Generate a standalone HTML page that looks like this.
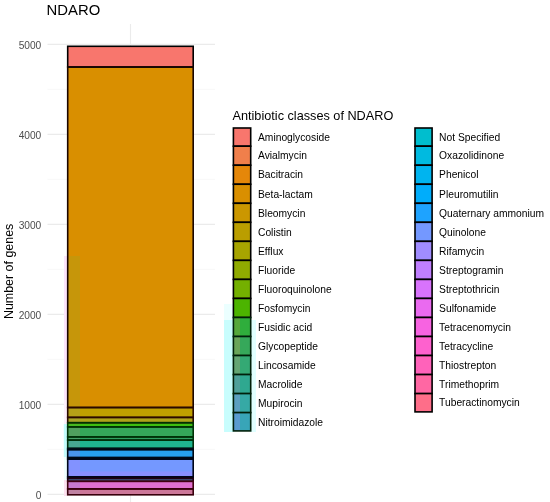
<!DOCTYPE html>
<html><head><meta charset="utf-8"><title>NDARO</title>
<style>
html,body{margin:0;padding:0;background:#fff;}
body{width:550px;height:502px;overflow:hidden;}
svg{display:block;}
text{font-family:"Liberation Sans",sans-serif;}
.ax{font-size:10.2px;fill:#4d4d4d;}
.lg{font-size:10.28px;fill:#000;}
</style></head><body>
<svg width="550" height="502" viewBox="0 0 550 502">
<rect width="550" height="502" fill="#fff"/>
<line x1="47.5" x2="215" y1="449.4" y2="449.4" stroke="#f3f3f3" stroke-width="0.6"/>
<line x1="47.5" x2="215" y1="359.4" y2="359.4" stroke="#f3f3f3" stroke-width="0.6"/>
<line x1="47.5" x2="215" y1="269.4" y2="269.4" stroke="#f3f3f3" stroke-width="0.6"/>
<line x1="47.5" x2="215" y1="179.4" y2="179.4" stroke="#f3f3f3" stroke-width="0.6"/>
<line x1="47.5" x2="215" y1="89.4" y2="89.4" stroke="#f3f3f3" stroke-width="0.6"/>
<line x1="47.5" x2="215" y1="494.4" y2="494.4" stroke="#ebebeb" stroke-width="1.1"/>
<line x1="47.5" x2="215" y1="404.4" y2="404.4" stroke="#ebebeb" stroke-width="1.1"/>
<line x1="47.5" x2="215" y1="314.4" y2="314.4" stroke="#ebebeb" stroke-width="1.1"/>
<line x1="47.5" x2="215" y1="224.4" y2="224.4" stroke="#ebebeb" stroke-width="1.1"/>
<line x1="47.5" x2="215" y1="134.4" y2="134.4" stroke="#ebebeb" stroke-width="1.1"/>
<line x1="47.5" x2="215" y1="44.4" y2="44.4" stroke="#ebebeb" stroke-width="1.1"/>
<line x1="130.5" x2="130.5" y1="24" y2="502" stroke="#ebebeb" stroke-width="1.1"/>
<rect x="64" y="256" width="3.6" height="144" fill="#FCE4FC"/>
<rect x="64" y="400" width="3.6" height="24" fill="#FEF0FC"/>
<rect x="63.8" y="424" width="3.8" height="33" fill="#C4FCFC"/>
<rect x="64" y="457" width="3.6" height="23" fill="#F0FFFF"/>
<rect x="64" y="480" width="3.6" height="16" fill="#FDE2F0"/>
<rect x="67.7" y="46.3" width="125.5" height="20.7" fill="#F8766D"/>
<rect x="67.7" y="67.0" width="125.5" height="340.5" fill="#D98F00"/>
<rect x="67.7" y="256" width="12.3" height="151.5" fill="#C6960A"/>
<rect x="67.7" y="407.5" width="125.5" height="9.9" fill="#BFA000"/>
<rect x="67.7" y="407.5" width="12.3" height="9.9" fill="#B5A118"/>
<rect x="67.7" y="417.4" width="125.5" height="5.3" fill="#ADA51A"/>
<rect x="67.7" y="417.4" width="12.3" height="5.3" fill="#A8A528"/>
<rect x="67.7" y="422.7" width="125.5" height="4.2" fill="#3DBE10"/>
<rect x="67.7" y="422.7" width="12.3" height="4.2" fill="#45B820"/>
<rect x="67.7" y="426.9" width="125.5" height="10.0" fill="#35A85A"/>
<rect x="67.7" y="426.9" width="12.3" height="10.0" fill="#50A05E"/>
<rect x="67.7" y="436.9" width="125.5" height="3.2" fill="#2FA060"/>
<rect x="67.7" y="436.9" width="12.3" height="3.2" fill="#48A068"/>
<rect x="67.7" y="440.1" width="125.5" height="8.3" fill="#1FB590"/>
<rect x="67.7" y="440.1" width="12.3" height="8.3" fill="#48A892"/>
<rect x="67.7" y="448.4" width="125.5" height="1.2" fill="#00B4EF"/>
<rect x="67.7" y="449.6" width="125.5" height="8.0" fill="#27A0EE"/>
<rect x="67.7" y="449.6" width="12.3" height="8.0" fill="#4A94EC"/>
<rect x="67.7" y="457.6" width="125.5" height="1.6" fill="#1EA3FF"/>
<rect x="67.7" y="459.2" width="125.5" height="17.6" fill="#7498FF"/>
<rect x="67.7" y="459.2" width="12.3" height="17.6" fill="#8292FF"/>
<rect x="67.7" y="476.8" width="125.5" height="1.6" fill="#A08CFF"/>
<rect x="67.7" y="478.4" width="125.5" height="2.9" fill="#5070A0"/>
<rect x="67.7" y="481.3" width="125.5" height="7.6" fill="#E070D0"/>
<rect x="67.7" y="481.3" width="12.3" height="7.6" fill="#C87ACF"/>
<rect x="67.7" y="488.9" width="125.5" height="5.9" fill="#CC7799"/>
<rect x="67.7" y="488.9" width="12.3" height="5.9" fill="#BF82A2"/>
<rect x="67.7" y="471.5" width="125.5" height="5" fill="#8890FF"/>
<rect x="67.7" y="46.3" width="125.5" height="20.7" fill="none" stroke="#000" stroke-width="1.6"/>
<rect x="67.7" y="67.0" width="125.5" height="340.5" fill="none" stroke="#1a0500" stroke-width="1.6"/>
<rect x="67.7" y="407.5" width="125.5" height="9.9" fill="none" stroke="#2a0800" stroke-width="1.6"/>
<rect x="67.7" y="417.4" width="125.5" height="5.3" fill="none" stroke="#2a0a00" stroke-width="1.6"/>
<rect x="67.7" y="422.7" width="125.5" height="4.2" fill="none" stroke="#003000" stroke-width="1.6"/>
<rect x="67.7" y="426.9" width="125.5" height="10.0" fill="none" stroke="#003205" stroke-width="1.6"/>
<rect x="67.7" y="436.9" width="125.5" height="3.2" fill="none" stroke="#003208" stroke-width="1.6"/>
<rect x="67.7" y="440.1" width="125.5" height="8.3" fill="none" stroke="#00300a" stroke-width="1.6"/>
<rect x="67.7" y="448.4" width="125.5" height="1.2" fill="none" stroke="#001018" stroke-width="1.6"/>
<rect x="67.7" y="449.6" width="125.5" height="8.0" fill="none" stroke="#000814" stroke-width="1.6"/>
<rect x="67.7" y="457.6" width="125.5" height="1.6" fill="none" stroke="#000814" stroke-width="1.6"/>
<rect x="67.7" y="459.2" width="125.5" height="17.6" fill="none" stroke="#000618" stroke-width="1.6"/>
<rect x="67.7" y="476.8" width="125.5" height="1.6" fill="none" stroke="#000618" stroke-width="1.6"/>
<rect x="67.7" y="478.4" width="125.5" height="2.9" fill="none" stroke="#200010" stroke-width="1.6"/>
<rect x="67.7" y="481.3" width="125.5" height="7.6" fill="none" stroke="#40000F" stroke-width="1.6"/>
<rect x="67.7" y="488.9" width="125.5" height="5.9" fill="none" stroke="#38000c" stroke-width="1.6"/>
<text x="46.6" y="14.5" font-size="14.85px" fill="#000">NDARO</text>
<text class="ax" x="41.3" y="499.1" text-anchor="end">0</text>
<text class="ax" x="41.3" y="409.1" text-anchor="end">1000</text>
<text class="ax" x="41.3" y="319.1" text-anchor="end">2000</text>
<text class="ax" x="41.3" y="229.1" text-anchor="end">3000</text>
<text class="ax" x="41.3" y="139.1" text-anchor="end">4000</text>
<text class="ax" x="41.3" y="49.1" text-anchor="end">5000</text>
<text transform="translate(12.7,271.4) rotate(-90)" text-anchor="middle" font-size="12.45px" fill="#000">Number of genes</text>
<text x="232.5" y="120" font-size="12.7px" fill="#000">Antibiotic classes of NDARO</text>
<rect x="224" y="304" width="10" height="16" fill="#EBFFFF"/>
<rect x="224" y="320" width="10" height="112" fill="#C8FDFD"/>
<rect x="250" y="320" width="6" height="112" fill="#E0FFFF"/>
<rect x="233.4" y="128.00" width="17.3" height="18.20" fill="#F8766D" stroke="#000" stroke-width="1.6"/>
<text class="lg" x="258.0" y="140.8">Aminoglycoside</text>
<rect x="233.4" y="146.20" width="17.3" height="19.03" fill="#F07F4B" stroke="#000" stroke-width="1.6"/>
<text class="lg" x="258.0" y="159.4">Avialmycin</text>
<rect x="233.4" y="165.23" width="17.3" height="19.03" fill="#E58709" stroke="#000" stroke-width="1.6"/>
<text class="lg" x="258.0" y="178.4">Bacitracin</text>
<rect x="233.4" y="184.26" width="17.3" height="19.03" fill="#D98F00" stroke="#000" stroke-width="1.6"/>
<text class="lg" x="258.0" y="197.5">Beta-lactam</text>
<rect x="233.4" y="203.29" width="17.3" height="19.03" fill="#CB9700" stroke="#000" stroke-width="1.6"/>
<text class="lg" x="258.0" y="216.5">Bleomycin</text>
<rect x="233.4" y="222.32" width="17.3" height="19.03" fill="#BA9E00" stroke="#000" stroke-width="1.6"/>
<text class="lg" x="258.0" y="235.5">Colistin</text>
<rect x="233.4" y="241.35" width="17.3" height="19.03" fill="#A7A400" stroke="#000" stroke-width="1.6"/>
<text class="lg" x="258.0" y="254.6">Efflux</text>
<rect x="233.4" y="260.38" width="17.3" height="19.03" fill="#90AA00" stroke="#000" stroke-width="1.6"/>
<text class="lg" x="258.0" y="273.6">Fluoride</text>
<rect x="233.4" y="279.41" width="17.3" height="19.03" fill="#74B000" stroke="#000" stroke-width="1.6"/>
<text class="lg" x="258.0" y="292.6">Fluoroquinolone</text>
<rect x="233.4" y="298.44" width="17.3" height="19.03" fill="#4CB400" stroke="#000" stroke-width="1.6"/>
<text class="lg" x="258.0" y="311.7">Fosfomycin</text>
<rect x="233.4" y="317.47" width="17.3" height="19.03" fill="#2FAE3C"/>
<rect x="233.4" y="317.47" width="6.6" height="19.03" fill="#55A83A"/>
<rect x="233.4" y="317.47" width="17.3" height="19.03" fill="none" stroke="#00200a" stroke-width="1.6"/>
<text class="lg" x="258.0" y="330.7">Fusidic acid</text>
<rect x="233.4" y="336.50" width="17.3" height="19.03" fill="#36A85A"/>
<rect x="233.4" y="336.50" width="6.6" height="19.03" fill="#6AA55A"/>
<rect x="233.4" y="336.50" width="17.3" height="19.03" fill="none" stroke="#00200a" stroke-width="1.6"/>
<text class="lg" x="258.0" y="349.7">Glycopeptide</text>
<rect x="233.4" y="355.53" width="17.3" height="19.03" fill="#34A974"/>
<rect x="233.4" y="355.53" width="6.6" height="19.03" fill="#65A674"/>
<rect x="233.4" y="355.53" width="17.3" height="19.03" fill="none" stroke="#00200a" stroke-width="1.6"/>
<text class="lg" x="258.0" y="368.7">Lincosamide</text>
<rect x="233.4" y="374.56" width="17.3" height="19.03" fill="#2FA890"/>
<rect x="233.4" y="374.56" width="6.6" height="19.03" fill="#4FA09A"/>
<rect x="233.4" y="374.56" width="17.3" height="19.03" fill="none" stroke="#00200a" stroke-width="1.6"/>
<text class="lg" x="258.0" y="387.8">Macrolide</text>
<rect x="233.4" y="393.59" width="17.3" height="19.03" fill="#36A9A5"/>
<rect x="233.4" y="393.59" width="6.6" height="19.03" fill="#5C9FC0"/>
<rect x="233.4" y="393.59" width="17.3" height="19.03" fill="none" stroke="#00200a" stroke-width="1.6"/>
<text class="lg" x="258.0" y="406.8">Mupirocin</text>
<rect x="233.4" y="412.62" width="17.3" height="18.30" fill="#38A5B8"/>
<rect x="233.4" y="412.62" width="6.6" height="18.30" fill="#5A9BD0"/>
<rect x="233.4" y="412.62" width="17.3" height="18.30" fill="none" stroke="#00200a" stroke-width="1.6"/>
<text class="lg" x="258.0" y="425.5">Nitroimidazole</text>
<rect x="415.0" y="128.00" width="17.1" height="18.20" fill="#00BECE" stroke="#000" stroke-width="1.6"/>
<text class="lg" x="439.1" y="140.8">Not Specified</text>
<rect x="415.0" y="146.20" width="17.1" height="19.03" fill="#00BAE0" stroke="#000" stroke-width="1.6"/>
<text class="lg" x="439.1" y="159.4">Oxazolidinone</text>
<rect x="415.0" y="165.23" width="17.1" height="19.03" fill="#00B4EF" stroke="#000" stroke-width="1.6"/>
<text class="lg" x="439.1" y="178.4">Phenicol</text>
<rect x="415.0" y="184.26" width="17.1" height="19.03" fill="#00ADFB" stroke="#000" stroke-width="1.6"/>
<text class="lg" x="439.1" y="197.5">Pleuromutilin</text>
<rect x="415.0" y="203.29" width="17.1" height="19.03" fill="#1EA3FF" stroke="#000" stroke-width="1.6"/>
<text class="lg" x="439.1" y="216.5">Quaternary ammonium</text>
<rect x="415.0" y="222.32" width="17.1" height="19.03" fill="#7498FF" stroke="#000" stroke-width="1.6"/>
<text class="lg" x="439.1" y="235.5">Quinolone</text>
<rect x="415.0" y="241.35" width="17.1" height="19.03" fill="#A08CFF" stroke="#000" stroke-width="1.6"/>
<text class="lg" x="439.1" y="254.6">Rifamycin</text>
<rect x="415.0" y="260.38" width="17.1" height="19.03" fill="#C07FFF" stroke="#000" stroke-width="1.6"/>
<text class="lg" x="439.1" y="273.6">Streptogramin</text>
<rect x="415.0" y="279.41" width="17.1" height="19.03" fill="#D873FC" stroke="#000" stroke-width="1.6"/>
<text class="lg" x="439.1" y="292.6">Streptothricin</text>
<rect x="415.0" y="298.44" width="17.1" height="19.03" fill="#EA6AF0" stroke="#000" stroke-width="1.6"/>
<text class="lg" x="439.1" y="311.7">Sulfonamide</text>
<rect x="415.0" y="317.47" width="17.1" height="19.03" fill="#F763E1" stroke="#000" stroke-width="1.6"/>
<text class="lg" x="439.1" y="330.7">Tetracenomycin</text>
<rect x="415.0" y="336.50" width="17.1" height="19.03" fill="#FE61CE" stroke="#000" stroke-width="1.6"/>
<text class="lg" x="439.1" y="349.7">Tetracycline</text>
<rect x="415.0" y="355.53" width="17.1" height="19.03" fill="#FF62BA" stroke="#000" stroke-width="1.6"/>
<text class="lg" x="439.1" y="368.7">Thiostrepton</text>
<rect x="415.0" y="374.56" width="17.1" height="19.03" fill="#FF67A3" stroke="#000" stroke-width="1.6"/>
<text class="lg" x="439.1" y="387.8">Trimethoprim</text>
<rect x="415.0" y="393.59" width="17.1" height="18.30" fill="#FE6E89" stroke="#000" stroke-width="1.6"/>
<text class="lg" x="439.1" y="406.4">Tuberactinomycin</text>
</svg></body></html>
